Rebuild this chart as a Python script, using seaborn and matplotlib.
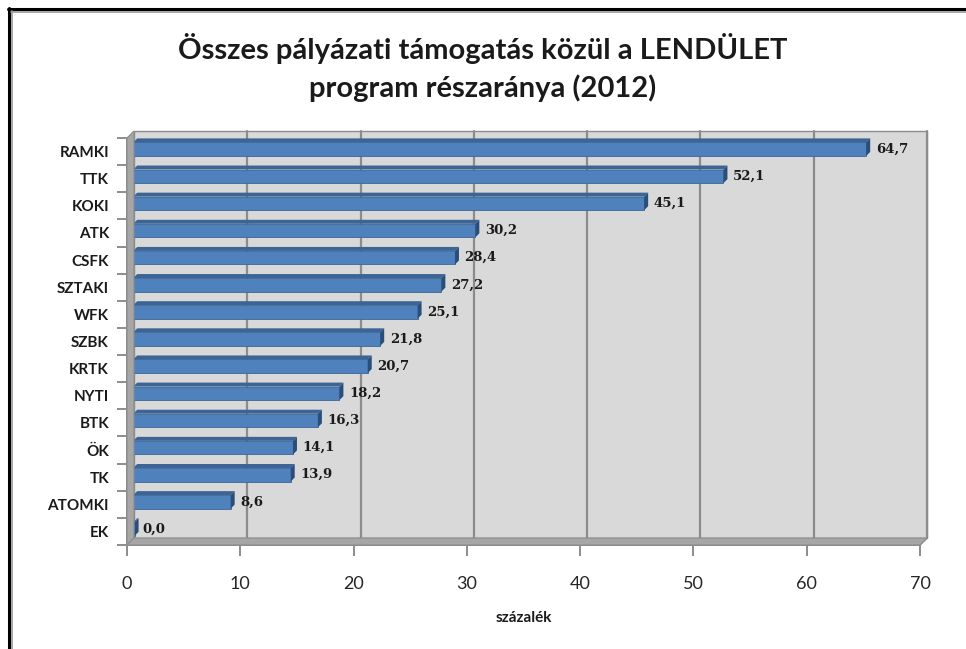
import numpy as np
import pandas as pd
import matplotlib
matplotlib.use("Agg")
import matplotlib.pyplot as plt
import matplotlib.transforms as mtransforms
from matplotlib.patches import Polygon, Rectangle
from matplotlib.lines import Line2D
import seaborn as sns

# data
intezetek = ["RAMKI", "TTK", "KOKI", "ATK", "CSFK", "SZTAKI", "WFK", "SZBK",
             "KRTK", "NYTI", "BTK", "ÖK", "TK", "ATOMKI", "EK"]
szazalek = [64.7, 52.1, 45.1, 30.2, 28.4, 27.2, 25.1, 21.8,
            20.7, 18.2, 16.3, 14.1, 13.9, 8.6, 0.0]
x_ticks = [0, 10, 20, 30, 40, 50, 60, 70]

df = pd.DataFrame({"intezet": intezetek, "szazalek": szazalek})

sns.set_theme(style="white")
plt.rcParams["font.family"] = ["Lato", "DejaVu Sans"]

W, H = 966, 649
fig = plt.figure(figsize=(W / 100, H / 100), dpi=100)
fig.patch.set_facecolor("white")

# plot area (front plane) in pixels
left_px, right_px = 127, 920
top_px, bottom_px = 138, 545
ax = fig.add_axes([left_px / W, 1 - bottom_px / H,
                   (right_px - left_px) / W, (bottom_px - top_px) / H])
ax.set_facecolor("none")

DEPTH = 7  # px, 3D depth of the walls
wall_tr = mtransforms.offset_copy(ax.transAxes, fig=fig, x=DEPTH, y=DEPTH, units="dots")
grid_tr = mtransforms.offset_copy(ax.get_xaxis_transform(), fig=fig, x=DEPTH, y=DEPTH, units="dots")

wall_col = "#d9d9d9"
side_col = "#a6a6a6"
line_col = "#8c8c8c"

# bars first, so their patches can be picked out cleanly
sns.barplot(data=df, x="szazalek", y="intezet", orient="h", color="#4f81bd",
            width=0.5, saturation=1, edgecolor="#3d6797", linewidth=0.6,
            ax=ax, zorder=2)
bar_patches = list(ax.patches)
ax.set_xlim(0, 70)
ax.set_ylim(len(intezetek) - 0.5, -0.5)

# back wall
ax.add_patch(Rectangle((0, 0), 1, 1, transform=wall_tr, facecolor=wall_col,
                       edgecolor=line_col, lw=1.0, zorder=0, clip_on=False))

# left wall and floor as parallelograms (in pixel space)
def px(xp, yp):
    return (xp, H - yp)

left_wall = Polygon([px(left_px, top_px), px(left_px + DEPTH, top_px - DEPTH),
                     px(left_px + DEPTH, bottom_px - DEPTH), px(left_px, bottom_px)],
                    closed=True, transform=None, facecolor=side_col,
                    edgecolor=line_col, lw=0.8, zorder=0.5)
floor = Polygon([px(left_px, bottom_px), px(left_px + DEPTH, bottom_px - DEPTH),
                 px(right_px + DEPTH, bottom_px - DEPTH), px(right_px, bottom_px)],
                closed=True, transform=None, facecolor=side_col,
                edgecolor=line_col, lw=0.8, zorder=0.5)
fig.add_artist(left_wall)
fig.add_artist(floor)

# gridlines on the back wall
for xt in x_ticks[1:]:
    ax.plot([xt, xt], [0, 1], transform=grid_tr, color=line_col, lw=1.6,
            zorder=0.6, clip_on=False)

# 3D faces for bars (top face and right end cap), depth in pixels converted to data units
inv = ax.transData.inverted()
x0d, y0d = inv.transform((0, 0))
x1d, y1d = inv.transform((4, 4))
ddx, ddy = x1d - x0d, y1d - y0d
shift_x = 0.55           # bars sit a little into the depth
shift_y = ddy * 0.6      # and slightly above the category centre
for p in bar_patches:
    w, h = p.get_width(), p.get_height()
    xb = p.get_x() + shift_x
    yb = p.get_y() + shift_y
    w = max(w, 0.12)
    p.set_x(xb)
    p.set_y(yb)
    p.set_width(w)
    xe = xb + w
    top = Polygon([(xb, yb), (xb + ddx, yb + ddy), (xe + ddx, yb + ddy), (xe, yb)],
                  closed=True, facecolor="#3c6595", edgecolor="none", zorder=2.1)
    cap = Polygon([(xe, yb), (xe + ddx, yb + ddy), (xe + ddx, yb + h + ddy), (xe, yb + h)],
                  closed=True, facecolor="#2a4e7a", edgecolor="none", zorder=2.1)
    ax.add_patch(top)
    ax.add_patch(cap)

# value labels
for i, v in enumerate(szazalek):
    ax.text(v + shift_x + 0.85, i + shift_y, f"{v:.1f}".replace(".", ","),
            va="center", ha="left", fontsize=9.5, fontweight="bold",
            family="DejaVu Serif", color="#1a1a1a", zorder=5, clip_on=False)

# axes styling
for s in ax.spines.values():
    s.set_visible(False)
ax.set_xticks(x_ticks)
ax.set_xticklabels([str(t) for t in x_ticks], fontsize=13, color="#262626")
ax.tick_params(axis="x", length=8, width=1.4, color=line_col, pad=14, bottom=True)
ax.set_yticks(range(len(intezetek)))
ax.set_yticks([i + 0.5 for i in range(-1, len(intezetek))], minor=True)
ax.tick_params(axis="y", which="major", length=0, pad=13)
ax.tick_params(axis="y", which="minor", length=7, width=1.4, color=line_col, left=True)
ax.set_yticklabels(intezetek, fontsize=11, color="#1a1a1a", fontweight="bold")
ax.set_ylabel("")
ax.set_xlabel("százalék", fontsize=11, fontweight="bold", labelpad=14, color="#1a1a1a")

# front axis lines
ax.plot([0, 1], [0, 0], transform=ax.transAxes, color=line_col, lw=1.4, clip_on=False, zorder=1)
ax.plot([0, 0], [0, 1], transform=ax.transAxes, color=line_col, lw=1.4, clip_on=False, zorder=1)
for xt in x_ticks[1:]:
    ax.plot([xt, xt + ddx * DEPTH / 4], [len(intezetek) - 0.5, len(intezetek) - 0.5 + ddy * DEPTH / 4],
            color=line_col, lw=1.2, clip_on=False, zorder=0.7)

fig.text(0.5, 1 - 48 / H, "Összes pályázati támogatás közül a LENDÜLET",
         ha="center", va="center", fontsize=21, fontweight="bold", color="#1a1a1a")
fig.text(0.5, 1 - 88 / H, "program részaránya (2012)",
         ha="center", va="center", fontsize=21, fontweight="bold", color="#1a1a1a")

# screenshot frame on top and left
fig.add_artist(Line2D([8 / W, 1], [1 - 9 / H, 1 - 9 / H], transform=fig.transFigure, color="black", lw=2.2))
fig.add_artist(Line2D([9 / W, 9 / W], [0, 1 - 8 / H], transform=fig.transFigure, color="black", lw=2.2))
fig.add_artist(Line2D([11 / W, 1], [1 - 12 / H, 1 - 12 / H], transform=fig.transFigure, color="#999999", lw=1.2))
fig.add_artist(Line2D([11.5 / W, 11.5 / W], [0, 1 - 11 / H], transform=fig.transFigure, color="#999999", lw=1.2))

fig.savefig("out.png", dpi=100)
